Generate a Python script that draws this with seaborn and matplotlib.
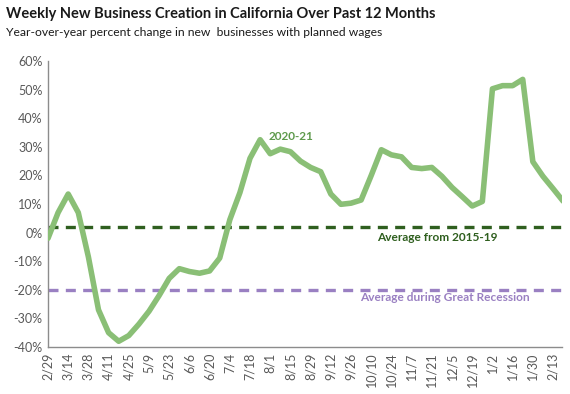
import pandas as pd
import matplotlib.pyplot as plt
import seaborn as sns

# weekly YoY % change, 2/29/2020 .. 2/20/2021
weeks = ['2/29', '3/7', '3/14', '3/21', '3/28', '4/4', '4/11', '4/18', '4/25', '5/2',
         '5/9', '5/16', '5/23', '5/30', '6/6', '6/13', '6/20', '6/27', '7/4', '7/11',
         '7/18', '7/25', '8/1', '8/8', '8/15', '8/22', '8/29', '9/5', '9/12', '9/19',
         '9/26', '10/3', '10/10', '10/17', '10/24', '10/31', '11/7', '11/14', '11/21', '11/28',
         '12/5', '12/12', '12/19', '12/26', '1/2', '1/9', '1/16', '1/23', '1/30', '2/6',
         '2/13', '2/20']
pct_change = [-2, 7, 13.5, 7, -8.5, -27, -35, -38, -36, -32,
              -27.5, -22, -16, -12.6, -13.6, -14.2, -13.4, -8.9, 4.5, 14,
              26, 32.5, 27.6, 29.2, 28.3, 25, 22.8, 21.3, 13.5, 9.9,
              10.3, 11.4, 20, 29, 27.2, 26.5, 22.8, 22.4, 22.8, 19.7,
              15.8, 12.6, 9.3, 10.9, 50.3, 51.4, 51.4, 53.6, 24.8, 19.7,
              15.4, 11]
avg_2015_19 = 2
avg_recession = -20

df = pd.DataFrame({'week': range(len(weeks)), 'pct': pct_change})

sns.set_style('white')
plt.rcParams['font.family'] = ['Lato', 'DejaVu Sans']

fig = plt.figure(figsize=(5.7, 3.94), dpi=100)
ax = fig.add_axes([0.0842, 0.1193, 0.902, 0.7257])

ax.axhline(avg_2015_19, color='#2f5f1f', lw=2.4, ls=(0, (3, 2.2)), zorder=2)
ax.axhline(avg_recession, color='#9a80c2', lw=2.4, ls=(0, (3, 2.2)), zorder=2)
sns.lineplot(data=df, x='week', y='pct', ax=ax, color='#8abf76', lw=4, zorder=3)

ax.text(21.8, 33.5, '2020-21', color='#5e9a4c', fontsize=8.5, fontweight='bold',
        va='center', ha='left')
ax.text(32.6, -1.8, 'Average from 2015-19', color='#2f5f1f', fontsize=8.6,
        fontweight='bold', va='center', ha='left')
ax.text(30.9, -22.8, 'Average during Great Recession', color='#9a80c2', fontsize=8.6,
        fontweight='bold', va='center', ha='left')

ax.set_xlim(0, len(weeks) - 1.1)
ax.set_ylim(-40, 60)
ax.set_xticks(range(0, len(weeks), 2))
ax.set_xticklabels(weeks[::2], rotation=90, fontsize=9, color='#595959')
ax.set_yticks(range(-40, 61, 10))
ax.set_yticklabels([f'{v}%' for v in range(-40, 61, 10)], fontsize=9, color='#595959')
ax.tick_params(length=0, pad=4)
ax.set_xlabel('')
ax.set_ylabel('')
for side in ['top', 'right']:
    ax.spines[side].set_visible(False)
for side in ['left', 'bottom']:
    ax.spines[side].set_color('#8c8c8c')
    ax.spines[side].set_linewidth(1)

fig.text(0.011, 0.965, 'Weekly New Business Creation in California Over Past 12 Months',
         fontsize=10.5, fontweight='bold', va='center', ha='left', color='#1a1a1a')
fig.text(0.011, 0.918, 'Year-over-year percent change in new  businesses with planned wages',
         fontsize=8.7, va='center', ha='left', color='#1a1a1a')

fig.savefig('out.png', dpi=100)
